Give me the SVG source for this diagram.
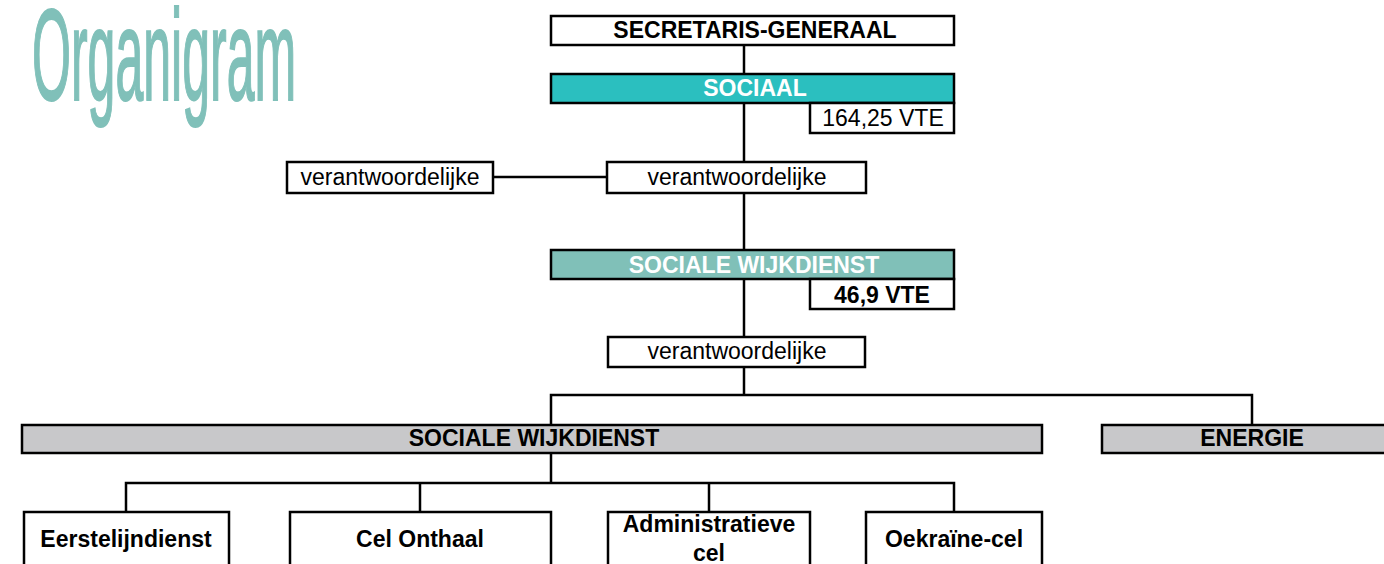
<svg xmlns="http://www.w3.org/2000/svg" width="1384" height="564" viewBox="0 0 1384 564">
  <style>
    .box { stroke: #000; stroke-width: 2.5; }
    .white { fill: #fff; }
    .teal { fill: #2bbfbf; }
    .mint { fill: #80c0b8; }
    .grey { fill: #c8c8ca; }
    .t { font-family: "Liberation Sans", Arial, sans-serif; font-size: 23px; text-anchor: middle; fill: #000; }
    .b { font-weight: bold; }
    .inv { fill: #fff; }
    .wire { fill: none; stroke: #000; stroke-width: 2.5; }
    .title { font-family: "Liberation Sans", Arial, sans-serif; font-size: 130px; fill: #80c0b9; stroke: #80c0b9; stroke-width: 1.5; }
  </style>

  <!-- heading, condensed horizontally -->
  <text class="title" transform="translate(32,100) scale(0.385,1)" vector-effect="non-scaling-stroke">Organigram</text>

  <!-- connectors -->
  <g id="connectors" class="wire">
    <path d="M744 45V73"/>
    <path d="M744 103V162"/>
    <path d="M493 177H607"/>
    <path d="M744 193V250"/>
    <path d="M744 279V337"/>
    <path d="M744 367V395"/>
    <path d="M551 425V395H1252V425"/>
    <path d="M551 453V483"/>
    <path d="M126 512V483H954V512"/>
    <path d="M420 483V512"/>
    <path d="M709 483V512"/>
  </g>

  <g id="secretaris-generaal">
    <rect class="box white" x="551" y="16" width="403" height="29"/>
    <text class="t b" x="755" y="38">SECRETARIS-GENERAAL</text>
  </g>

  <g id="sociaal">
    <rect class="box teal" x="551" y="74" width="403" height="29"/>
    <text class="t b inv" x="755" y="96">SOCIAAL</text>
  </g>

  <g id="sociaal-vte">
    <rect class="box white" x="810" y="103" width="144" height="30"/>
    <text class="t" x="883" y="126">164,25 VTE</text>
  </g>

  <g id="verantwoordelijke-links">
    <rect class="box white" x="287" y="162" width="206" height="31"/>
    <text class="t" x="390" y="185">verantwoordelijke</text>
  </g>

  <g id="verantwoordelijke-sociaal">
    <rect class="box white" x="607" y="162" width="259" height="31"/>
    <text class="t" x="737" y="185">verantwoordelijke</text>
  </g>

  <g id="sociale-wijkdienst">
    <rect class="box mint" x="551" y="250" width="403" height="29"/>
    <text class="t b inv" x="754" y="273">SOCIALE WIJKDIENST</text>
  </g>

  <g id="sociale-wijkdienst-vte">
    <rect class="box white" x="810" y="279" width="144" height="30"/>
    <text class="t b" x="882" y="303">46,9 VTE</text>
  </g>

  <g id="verantwoordelijke-wijkdienst">
    <rect class="box white" x="608" y="337" width="257" height="30"/>
    <text class="t" x="737" y="359">verantwoordelijke</text>
  </g>

  <g id="afdeling-sociale-wijkdienst">
    <rect class="box grey" x="22" y="425" width="1020" height="28"/>
    <text class="t b" x="534" y="446">SOCIALE WIJKDIENST</text>
  </g>

  <g id="afdeling-energie">
    <rect class="box grey" x="1102" y="425" width="300" height="28"/>
    <text class="t b" x="1252" y="446">ENERGIE</text>
  </g>

  <g id="eerstelijndienst">
    <rect class="box white" x="24" y="512" width="205" height="70"/>
    <text class="t b" x="126" y="547">Eerstelijndienst</text>
  </g>

  <g id="cel-onthaal">
    <rect class="box white" x="290" y="512" width="261" height="70"/>
    <text class="t b" x="420" y="547">Cel Onthaal</text>
  </g>

  <g id="administratieve-cel">
    <rect class="box white" x="608" y="512" width="202" height="70"/>
    <text class="t b" x="709" y="532">Administratieve</text>
    <text class="t b" x="709" y="561">cel</text>
  </g>

  <g id="oekraine-cel">
    <rect class="box white" x="866" y="512" width="176" height="70"/>
    <text class="t b" x="954" y="547">Oekraïne-cel</text>
  </g>
</svg>
